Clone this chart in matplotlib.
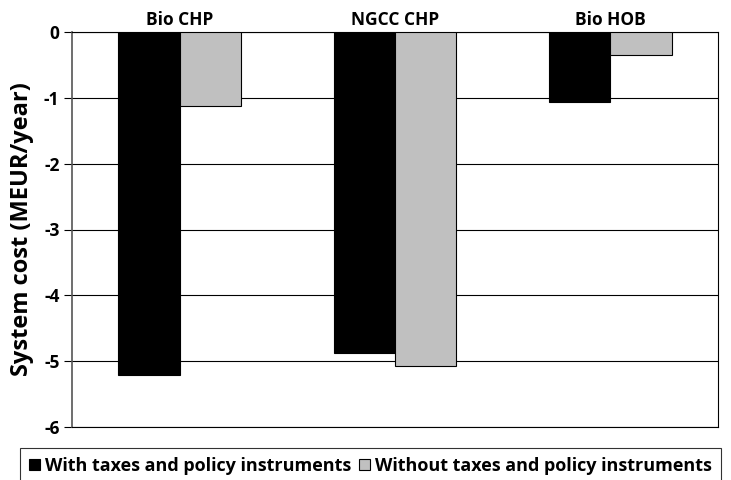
import numpy as np
import matplotlib.pyplot as plt

plt.rcParams['font.family'] = ['Open Sans', 'DejaVu Sans']
plt.rcParams['font.weight'] = 'bold'

# Data
categories = ['Bio CHP', 'NGCC CHP', 'Bio HOB']
with_taxes = [-5.21, -4.87, -1.06]
without_taxes = [-1.12, -5.08, -0.35]
series_names = ['With taxes and policy instruments', 'Without taxes and policy instruments']

fig = plt.figure(figsize=(7.31, 4.8), dpi=100)
ax = fig.add_axes([72 / 731, 1 - 427 / 480, 646 / 731, 395 / 480])

x = np.arange(len(categories))
w = 0.285
b1 = ax.bar(x - w / 2, with_taxes, w, color='black', edgecolor='black', linewidth=0.8,
            label=series_names[0], zorder=3)
b2 = ax.bar(x + w / 2, without_taxes, w, color='#c0c0c0', edgecolor='black', linewidth=0.8,
            label=series_names[1], zorder=3)

ax.set_xlim(-0.5, 2.5)
ax.set_ylim(-6, 0)
ax.set_yticks(np.arange(-6, 1, 1))
ax.set_yticklabels([str(v) for v in range(-6, 1)], fontsize=12.5, fontweight='bold')
ax.yaxis.grid(True, color='black', linewidth=0.8, zorder=0)
ax.set_axisbelow(True)

ax.xaxis.tick_top()
ax.set_xticks(x)
ax.set_xticklabels(categories, fontsize=12.5, fontweight='bold')
ax.tick_params(axis='x', length=0, pad=2)
ax.tick_params(axis='y', length=6, width=0.8, pad=3)

for s in ax.spines.values():
    s.set_linewidth(0.8)
    s.set_color('black')
ax.spines['left'].set_color('#555555')
ax.spines['left'].set_linewidth(1.2)

ax.set_ylabel('System cost (MEUR/year)', fontsize=17, fontweight='bold', labelpad=7)

leg = fig.legend(handles=[b1, b2], labels=series_names, loc='lower left',
                 bbox_to_anchor=(20 / 731, -4 / 480), ncol=2, frameon=True,
                 fancybox=False, edgecolor='black', fontsize=13,
                 handlelength=0.6, handleheight=0.6, handletextpad=0.3,
                 columnspacing=0.4, borderpad=0.5, borderaxespad=0)
leg.get_frame().set_linewidth(0.8)

fig.savefig('out.png', dpi=100)
